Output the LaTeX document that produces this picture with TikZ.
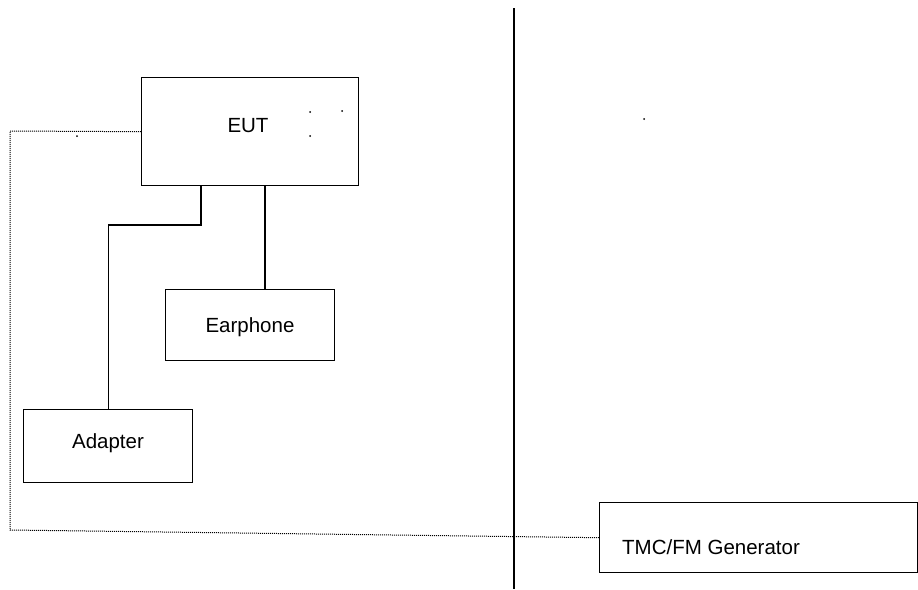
\documentclass[tikz,border=0pt]{standalone}
\usepackage{fontspec}
\setmainfont{Liberation Sans}
\begin{document}
\begin{tikzpicture}[x=1pt,y=-1pt,
  box/.style={draw,line width=1.4pt,inner sep=0pt,anchor=north west},
  lbl/.style={font=\fontsize{20.5}{24}\selectfont,inner sep=0pt,anchor=base},
  wire/.style={line width=1.4pt},
  dotline/.style={line width=1pt,dash pattern=on 1pt off 1pt},
  speck/.style={fill=black}]
\useasboundingbox (0,0) rectangle (918,589);
\node[box,minimum width=217pt,minimum height=108pt] (eut) at (141,77) {};
\node[box,minimum width=169pt,minimum height=71pt] (earphone) at (165,289) {};
\node[box,minimum width=169pt,minimum height=73pt] (adapter) at (23,409) {};
\node[box,minimum width=318pt,minimum height=70pt] (tmc) at (599,502) {};
\node[lbl] (teut) at (248,132) {EUT};
\node[lbl] (tear) at (250,332) {Earphone};
\node[lbl] (tad) at (108,448) {Adapter};
\node[lbl,anchor=base west] (ttmc) at (622,554) {TMC/FM Generator};
\coordinate (vt) at (514,8);
\coordinate (vb) at (514,589);
\draw[line width=1.7pt] (vt) -- (vb);
\coordinate (j1) at (201,225);
\coordinate (e1) at (265,289);
\draw[wire] (eut.south -| j1) -- (j1) -| (adapter.north);
\draw[wire] (eut.south -| e1) -- (e1);
\coordinate (c1) at (10,131);
\coordinate (c2) at (10,530);
\draw[dotline] (eut.west) -- (c1) -- (c2) -- (tmc.west);
\foreach \p in {(310,112),(342,111),(310,136),(77,136),(644,119)}
  \fill[speck] \p circle (1pt);
\end{tikzpicture}
\end{document}
